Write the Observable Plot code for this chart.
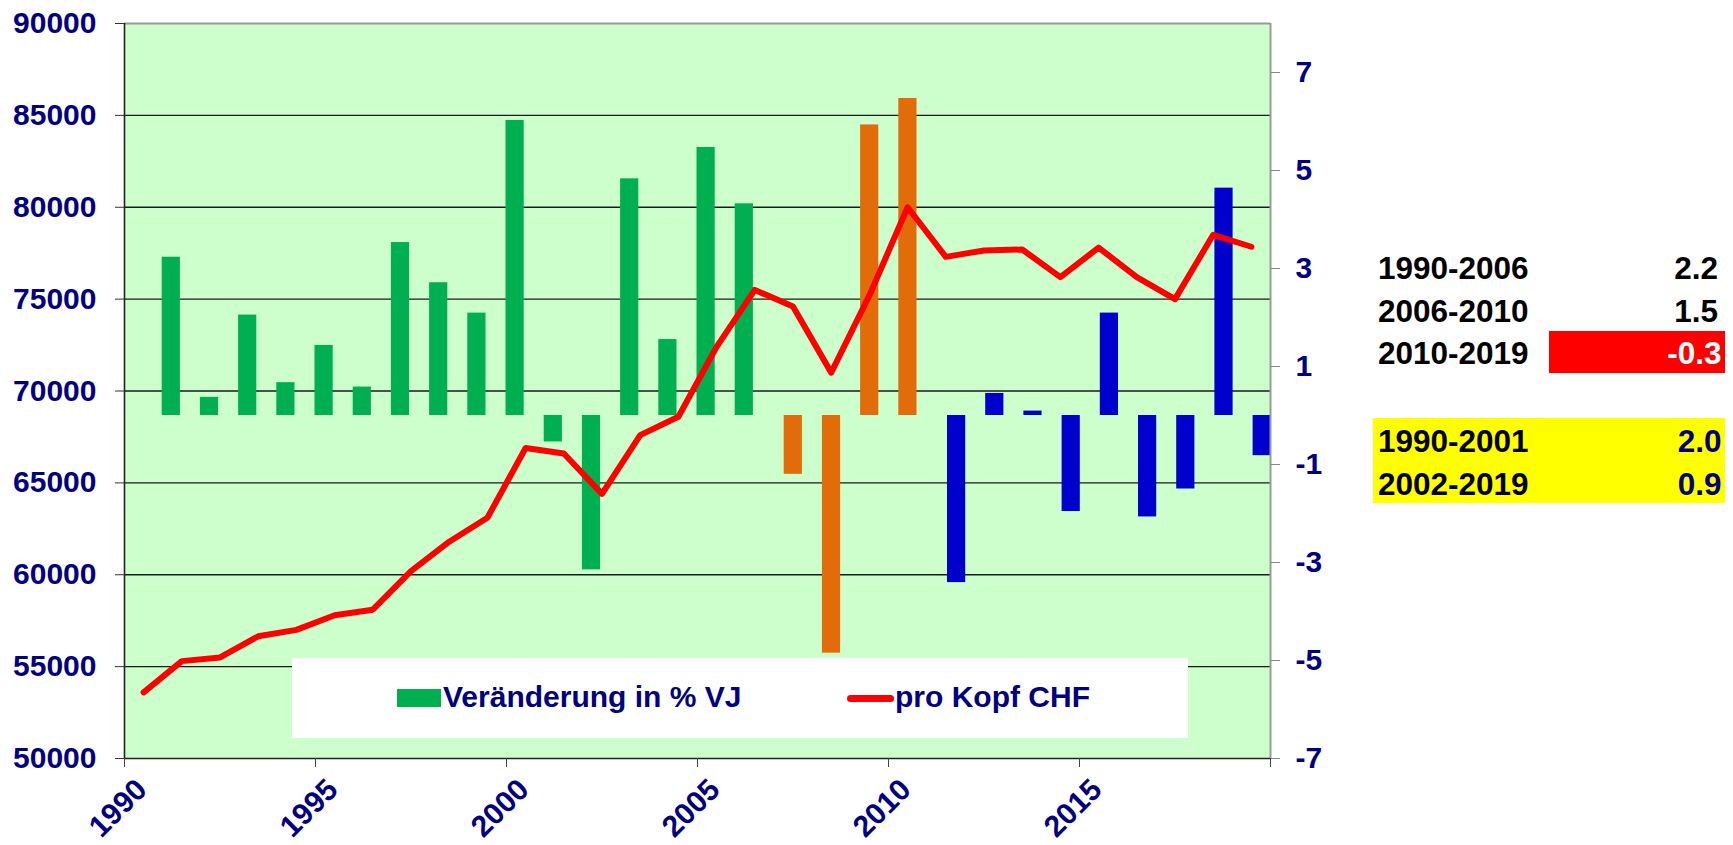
<!DOCTYPE html>
<html><head><meta charset="utf-8">
<script src="https://cdn.jsdelivr.net/npm/d3@7"></script>
<script src="https://cdn.jsdelivr.net/npm/@observablehq/plot@0.6"></script>
<style>
body{margin:0;background:#fff;}
#wrap{position:relative;width:1733px;height:845px;font-family:"Liberation Sans",Arial,sans-serif;font-weight:bold;}
.abs{position:absolute;white-space:nowrap;}
</style></head><body><div id="wrap"></div>
<script>
// ---- data ----
const years = [1990,1991,1992,1993,1994,1995,1996,1997,1998,1999,2000,2001,2002,2003,2004,2005,2006,2007,2008,2009,2010,2011,2012,2013,2014,2015,2016,2017,2018,2019];
const chfPerCapita = [53600,55300,55500,56650,57000,57800,58100,60200,61800,63100,66900,66600,64400,67600,68600,72400,75500,74600,71000,75200,80000,77300,77650,77700,76200,77800,76200,75000,78500,77850];

const greenYears = [1991,1992,1993,1994,1995,1996,1997,1998,1999,2000,2001,2002,2003,2004,2005,2006];
const greenPct   = [3.23,0.37,2.05,0.67,1.43,0.58,3.53,2.71,2.09,6.02,-0.54,-3.15,4.83,1.55,5.47,4.32];
const orangeYears = [2007,2008,2009,2010];
const orangePct   = [-1.20,-4.85,5.93,6.47];
const blueYears = [2011,2012,2013,2014,2015,2016,2017,2018,2019];
const bluePct   = [-3.41,0.45,0.09,-1.96,2.09,-2.07,-1.50,4.64,-0.82];

const leftTicks = [50000,55000,60000,65000,70000,75000,80000,85000,90000];
const rightTicks = [-7,-5,-3,-1,1,3,5,7];
const xTickYears = [1990,1995,2000,2005,2010,2015,2020];
const xLabelYears = [1990,1995,2000,2005,2010,2015];

const legendLabels = ["Veränderung in % VJ", "pro Kopf CHF"];
const periodLabels = ["1990-2006","2006-2010","2010-2019","1990-2001","2002-2019"];
const periodValues = ["2.2","1.5","-0.3","2.0","0.9"];

// ---- scales helpers (dual axis) ----
const LEFT = [50000, 90000], RIGHT = [-7, 8];
const toLeft = p => LEFT[0] + (p - RIGHT[0]) * (LEFT[1] - LEFT[0]) / (RIGHT[1] - RIGHT[0]);
const fromLeft = v => RIGHT[0] + (v - LEFT[0]) * (RIGHT[1] - RIGHT[0]) / (LEFT[1] - LEFT[0]);

const NAVY = "#000080";
const FONT = "'Liberation Sans', Arial, sans-serif";

const lineData = years.map((y, i) => ({year: y, chf: chfPerCapita[i]}));
const bars = (ys, ps, color, dx) =>
  Plot.rectY(ys.map((y, i) => ({year: y, pct: ps[i]})), {
    x: "year", interval: 1,
    y1: () => toLeft(0), y2: d => toLeft(d.pct),
    fill: color, insetLeft: 10, insetRight: 10, dx
  });

const chart = Plot.plot({
  width: 1733, height: 845,
  marginLeft: 124, marginRight: 463, marginTop: 23, marginBottom: 87,
  x: {domain: [1990, 2020]},
  y: {domain: LEFT},
  style: {fontFamily: FONT, fontWeight: "bold", fontSize: "30px", background: "white", overflow: "visible"},
  marks: [
    Plot.frame({fill: "#CCFFCC", stroke: null}),
    Plot.ruleY(leftTicks.slice(1, -1), {stroke: "#1a1a1a", strokeWidth: 1.3}),
    bars(greenYears, greenPct, "#00B050", -10.5),
    bars(orangeYears, orangePct, "#E36C0A", 0.3),
    bars(blueYears, bluePct, "#0000CC", 10.8),
    Plot.line(lineData, {x: d => d.year + 0.5, y: "chf", stroke: "#FF0000", strokeWidth: 6, strokeLinejoin: "round", strokeLinecap: "round"}),
    Plot.ruleY([90000], {stroke: "#999", strokeWidth: 2}),
    Plot.ruleX([2020], {stroke: "#999", strokeWidth: 2}),
    Plot.ruleX([1990], {stroke: "#222", strokeWidth: 1.6}),
    Plot.ruleY([50000], {stroke: "#222", strokeWidth: 1.6}),
    Plot.axisY(leftTicks, {anchor: "left", tickSize: 9, tickPadding: 19, stroke: "#333", fill: NAVY, fontSize: 30, fontWeight: "bold", label: null,
      tickFormat: d => String(d)}),
    Plot.axisY(rightTicks.map(toLeft), {anchor: "right", tickSize: 9, tickPadding: 16, stroke: "#888", fill: NAVY, fontSize: 30, fontWeight: "bold", label: null,
      tickFormat: v => String(Math.round(fromLeft(v)))}),
    Plot.axisX(xTickYears, {anchor: "bottom", tickSize: 9, stroke: "#444", tickFormat: () => "", label: null}),
    Plot.text(xLabelYears, {x: d => d, text: d => String(d), frameAnchor: "bottom", rotate: -45, textAnchor: "end", lineAnchor: "bottom",
      dx: 24, dy: 33, fill: NAVY, fontSize: 30, fontWeight: "bold"})
  ]
});

const wrap = document.getElementById("wrap");
wrap.appendChild(chart);

function box(left, top, w, h, bg, radius) {
  const d = document.createElement("div");
  d.className = "abs";
  Object.assign(d.style, {left: left + "px", top: top + "px", width: w + "px", height: h + "px", background: bg});
  if (radius) d.style.borderRadius = radius + "px";
  wrap.appendChild(d);
  return d;
}
function label(text, opts) {
  const d = document.createElement("div");
  d.className = "abs";
  d.textContent = text;
  const fs = opts.size;
  const baselineOff = (fs - 1.117 * fs) / 2 + 0.905 * fs;
  Object.assign(d.style, {fontSize: fs + "px", lineHeight: fs + "px", color: opts.color, top: (opts.baseline - baselineOff) + "px"});
  if (opts.left != null) d.style.left = opts.left + "px";
  if (opts.right != null) { d.style.right = opts.right + "px"; d.style.textAlign = "right"; }
  wrap.appendChild(d);
  return d;
}

// legend
box(292, 658, 896, 79.5, "#FFFFFF");
box(396.7, 689.3, 44, 17.4, "#00B050");
label(legendLabels[0], {size: 30, color: NAVY, left: 443, baseline: 707.3});
box(847, 694.8, 46.5, 7, "#FF0000", 3.5);
label(legendLabels[1], {size: 30, color: NAVY, left: 895, baseline: 707.3});

// period table
box(1549, 330.7, 176, 42, "#FF0000");
box(1373.3, 418.3, 351.7, 85, "#FFFF00");
const baselines = [279.3, 322.7, 364.3, 452.3, 496];
const valueColors = ["#000", "#000", "#FFF", NAVY, NAVY];
const valueRight = [15, 15, 11.5, 11.5, 11.5];
periodLabels.forEach((t, i) => {
  label(t, {size: 31.5, color: "#000", left: 1378, baseline: baselines[i]});
  label(periodValues[i], {size: 31.5, color: valueColors[i], right: valueRight[i], baseline: baselines[i]});
});
</script></body></html>
